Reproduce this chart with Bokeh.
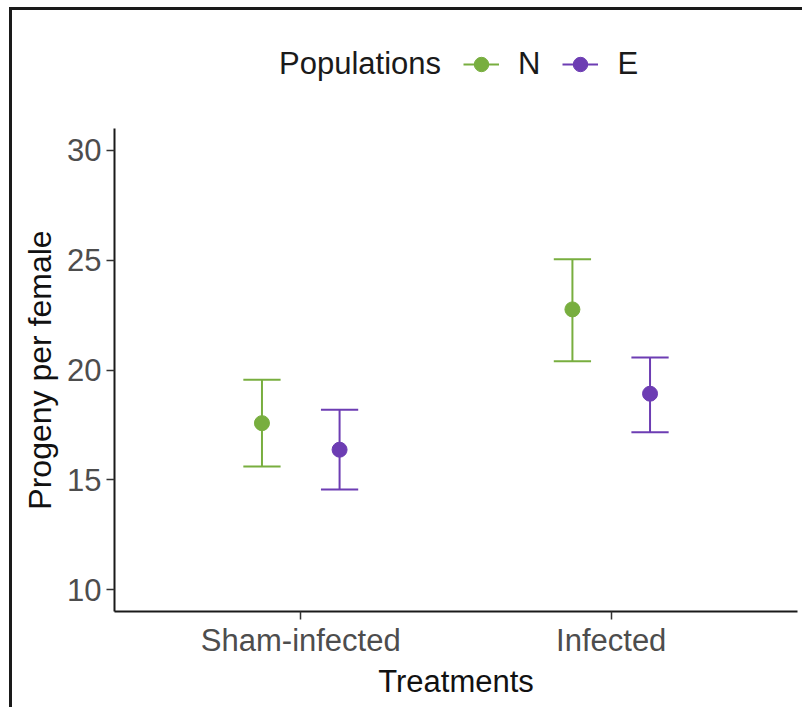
from bokeh.plotting import figure
from bokeh.layouts import column
from bokeh.models import (ColumnDataSource, FactorRange, Range1d, FixedTicker,
                          Legend, LegendItem)
from bokeh.transform import dodge
from bokeh.embed import file_html
from bokeh.resources import INLINE

# --- data -------------------------------------------------------------
treatments = ["Sham-infected", "Infected"]
populations = ["N", "E"]

n_mean = [17.58, 22.76]
n_lower = [15.61, 20.40]
n_upper = [19.56, 25.05]

e_mean = [16.37, 18.92]
e_lower = [14.56, 17.17]
e_upper = [18.19, 20.57]

y_ticks = [10, 15, 20, 25, 30]

# --- styling ----------------------------------------------------------
FONT = "Liberation Sans"
colors = {"N": "#78ae3f", "E": "#6d3db3"}
offsets = {"N": -0.125, "E": 0.125}
cap_half = 0.06
W = 790
LEGEND_H = 118
NAN = float("nan")

series = {
    "N": dict(treatment=treatments, mean=n_mean, lower=n_lower, upper=n_upper),
    "E": dict(treatment=treatments, mean=e_mean, lower=e_lower, upper=e_upper),
}

# --- legend strip above the plot ---------------------------------------
head = figure(width=W, height=LEGEND_H, x_range=Range1d(0, 1),
              y_range=Range1d(0, 1), output_backend="svg",
              toolbar_location=None, x_axis_location=None,
              y_axis_location=None, min_border=0)
head.outline_line_color = None
head.xgrid.visible = False
head.ygrid.visible = False

# key proxies: one undrawable (NaN) row each, so only the legend keys show
items = [LegendItem(label="Populations",
                    renderers=[head.scatter(x=[NAN], y=[NAN], alpha=0)])]
for pop in populations:
    c = colors[pop]
    key_line = head.segment(x0=[NAN], y0=[NAN], x1=[NAN], y1=[NAN],
                            line_color=c, line_width=2)
    key_dot = head.scatter(x=[NAN], y=[NAN], size=15, fill_color=c,
                           line_color=c)
    items.append(LegendItem(label=pop, renderers=[key_line, key_dot]))

legend = Legend(
    items=items, orientation="horizontal", location=(110, 46),
    glyph_width=36, glyph_height=36, label_standoff=19, spacing=22,
    padding=0, margin=0, border_line_alpha=0, background_fill_alpha=0,
    label_text_font=FONT, label_text_font_size="31px",
    label_text_color="#1a1a1a",
)
head.add_layout(legend)

# --- main plot --------------------------------------------------------
p = figure(
    x_range=FactorRange(factors=treatments, range_padding=0.1,
                        range_padding_units="absolute"),
    y_range=Range1d(9, 31),
    width=W, height=697 - LEGEND_H,
    output_backend="svg", toolbar_location=None,
    min_border_left=102, min_border_right=5,
    min_border_top=0, min_border_bottom=96,
)

for pop in populations:
    src = ColumnDataSource(series[pop])
    c = colors[pop]
    off = offsets[pop]
    xc = dodge("treatment", off, range=p.x_range)
    xl = dodge("treatment", off - cap_half, range=p.x_range)
    xr = dodge("treatment", off + cap_half, range=p.x_range)
    p.segment(x0=xc, y0="lower", x1=xc, y1="upper", source=src,
              line_color=c, line_width=2)
    p.segment(x0=xl, y0="upper", x1=xr, y1="upper", source=src,
              line_color=c, line_width=2)
    p.segment(x0=xl, y0="lower", x1=xr, y1="lower", source=src,
              line_color=c, line_width=2)
    p.scatter(x=xc, y="mean", source=src, size=15, fill_color=c,
              line_color=c)

p.xgrid.visible = False
p.ygrid.visible = False
p.outline_line_color = None

p.yaxis.ticker = FixedTicker(ticks=y_ticks)
p.xaxis.axis_label = "Treatments"
p.yaxis.axis_label = "Progeny per female"

for ax in (p.xaxis, p.yaxis):
    ax.axis_line_color = "#1a1a1a"
    ax.axis_line_width = 2
    ax.major_tick_line_color = "#333333"
    ax.major_tick_line_width = 1.5
    ax.major_tick_out = 8
    ax.major_tick_in = 0
    ax.minor_tick_line_color = None
    ax.major_label_text_font = FONT
    ax.major_label_text_font_size = "31px"
    ax.major_label_text_color = "#4d4d4d"
    ax.axis_label_text_font = FONT
    ax.axis_label_text_font_style = "normal"
    ax.axis_label_text_color = "#111111"

p.xaxis.axis_label_text_font_size = "31px"
p.yaxis.axis_label_text_font_size = "32px"
p.xaxis.major_label_standoff = 3
p.yaxis.major_label_standoff = 5
p.xaxis.axis_label_standoff = 3
p.yaxis.axis_label_standoff = 6

page = column(head, p, spacing=0, styles={
    "border-top": "3px solid #1a1a1a",
    "border-left": "3px solid #1a1a1a",
    "margin-top": "7px",
    "margin-left": "9px",
})

open("out.html", "w").write(file_html(page, INLINE))
